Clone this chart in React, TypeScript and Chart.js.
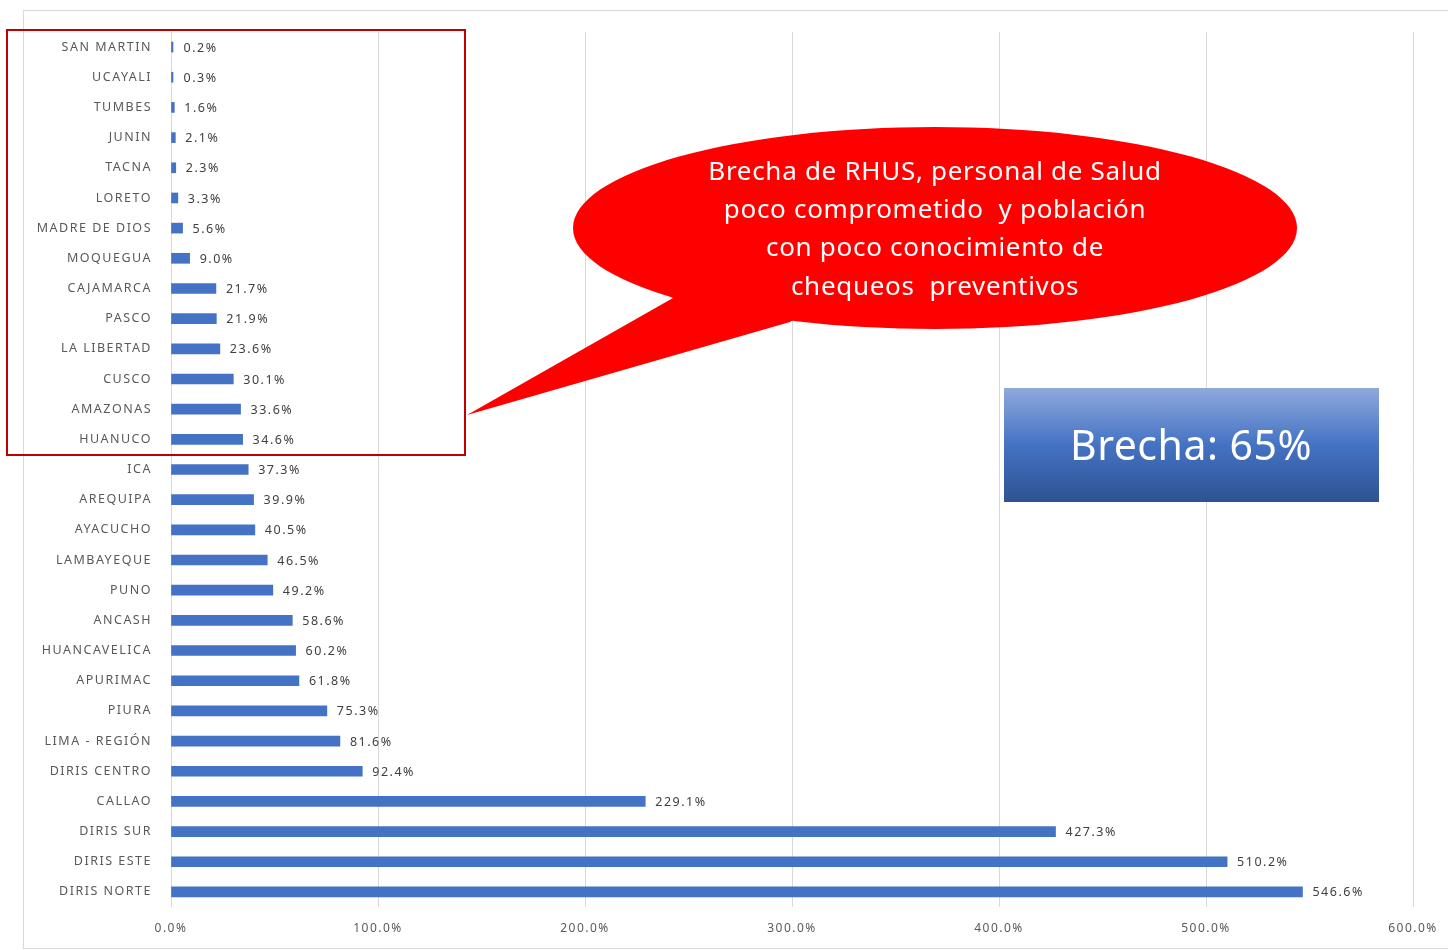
import React, { useEffect, useRef } from "react";
import { Chart, registerables } from "chart.js";

Chart.register(...registerables);

const categories = [
  "SAN MARTIN", "UCAYALI", "TUMBES", "JUNIN", "TACNA", "LORETO", "MADRE DE DIOS",
  "MOQUEGUA", "CAJAMARCA", "PASCO", "LA LIBERTAD", "CUSCO", "AMAZONAS", "HUANUCO",
  "ICA", "AREQUIPA", "AYACUCHO", "LAMBAYEQUE", "PUNO", "ANCASH", "HUANCAVELICA",
  "APURIMAC", "PIURA", "LIMA - REGIÓN", "DIRIS CENTRO", "CALLAO", "DIRIS SUR",
  "DIRIS ESTE", "DIRIS NORTE",
];
const values = [
  0.2, 0.3, 1.6, 2.1, 2.3, 3.3, 5.6, 9.0, 21.7, 21.9, 23.6, 30.1, 33.6, 34.6,
  37.3, 39.9, 40.5, 46.5, 49.2, 58.6, 60.2, 61.8, 75.3, 81.6, 92.4, 229.1, 427.3,
  510.2, 546.6,
];
const xTicks = [0, 100, 200, 300, 400, 500, 600];
const bubbleLines = [
  "Brecha de RHUS, personal de Salud",
  "poco comprometido  y población",
  "con poco conocimiento de",
  "chequeos  preventivos",
];
const boxLabel = "Brecha: 65%";

const FONT = "'Noto Sans', 'Open Sans', sans-serif";

const decorPlugin = {
  id: "decor",
  beforeDraw(chart: any) {
    const ctx = chart.ctx;
    ctx.letterSpacing = "1.5px";
    ctx.save();
    ctx.strokeStyle = "#D9D9D9";
    ctx.lineWidth = 1;
    ctx.strokeRect(23.5, 10.5, 1440, 938);
    ctx.restore();
  },
  afterDatasetsDraw(chart: any) {
    const ctx = chart.ctx;
    const meta = chart.getDatasetMeta(0);
    ctx.save();
    ctx.letterSpacing = "1.5px";
    ctx.fillStyle = "#404040";
    ctx.font = `12.5px ${FONT}`;
    ctx.textBaseline = "middle";
    ctx.textAlign = "left";
    meta.data.forEach((bar: any, i: number) => {
      const x = Math.max(bar.x, bar.base + 2);
      ctx.fillText(values[i].toFixed(1) + "%", x + 10, bar.y + 1);
    });
    ctx.restore();
  },
  afterDraw(chart: any) {
    const ctx = chart.ctx;
    ctx.save();
    // red box
    ctx.strokeStyle = "#C00000";
    ctx.lineWidth = 2;
    ctx.strokeRect(7, 30, 458, 425);

    // speech bubble
    ctx.fillStyle = "#FF0000";
    ctx.beginPath();
    ctx.ellipse(935, 228, 362, 101, 0, 0, Math.PI * 2);
    ctx.fill();
    ctx.beginPath();
    ctx.moveTo(660, 290);
    ctx.lineTo(673, 298);
    ctx.lineTo(467, 415);
    ctx.lineTo(790, 322);
    ctx.lineTo(820, 300);
    ctx.closePath();
    ctx.fill();

    ctx.fillStyle = "#FFFFFF";
    ctx.letterSpacing = "0.7px";
    ctx.font = `26px ${FONT}`;
    ctx.textAlign = "center";
    ctx.textBaseline = "middle";
    const ys = [173, 211, 249, 288];
    bubbleLines.forEach((t, i) => ctx.fillText(t, 935, ys[i]));

    // blue box
    const g = ctx.createLinearGradient(0, 388, 0, 502);
    g.addColorStop(0, "#8FAADC");
    g.addColorStop(0.5, "#4472C4");
    g.addColorStop(1, "#2F5291");
    ctx.fillStyle = g;
    ctx.fillRect(1004, 388, 375, 114);
    ctx.fillStyle = "#FFFFFF";
    ctx.letterSpacing = "0.5px";
    ctx.font = `41px ${FONT}`;
    ctx.fillText(boxLabel, 1191, 448);
    ctx.restore();
  },
};

export default function App() {
  const ref = useRef<HTMLCanvasElement | null>(null);
  useEffect(() => {
    if (!ref.current) return;
    const chart = new Chart(ref.current, {
      type: "bar",
      data: {
        labels: categories,
        datasets: [
          {
            data: values,
            backgroundColor: "#4472C4",
            barThickness: 10,
            minBarLength: 2,
          },
        ],
      },
      options: {
        indexAxis: "y",
        responsive: false,
        animation: false,
        layout: { padding: { left: 23, top: 32, right: 35, bottom: 0 } },
        plugins: { legend: { display: false }, tooltip: { enabled: false } },
        scales: {
          x: {
            min: 0,
            max: 600,
            afterBuildTicks: (s: any) => {
              s.ticks = xTicks.map((v) => ({ value: v }));
            },
            afterFit: (s: any) => {
              s.height = 43;
            },
            grid: { color: "#D9D9D9", drawTicks: false },
            border: { display: false },
            ticks: {
              padding: 14,
              color: "#595959",
              font: { family: FONT, size: 12 },
              callback: (v: any) => Number(v).toFixed(1) + "%",
            },
          },
          y: {
            afterFit: (s: any) => {
              s.width = 148;
            },
            grid: { display: false, drawTicks: false },
            border: { display: false },
            ticks: {
              padding: 19,
              color: "#595959",
              font: { family: FONT, size: 12.5 },
              autoSkip: false,
            },
          },
        },
      },
      plugins: [decorPlugin],
    });
    return () => chart.destroy();
  }, []);
  return (
    <div style={{ position: "absolute", left: 0, top: 0, width: 1448, height: 950, background: "#fff" }}>
      <canvas ref={ref} width={1448} height={950} />
    </div>
  );
}
